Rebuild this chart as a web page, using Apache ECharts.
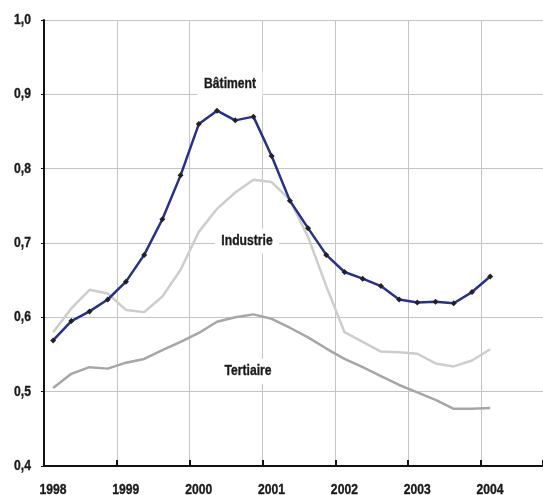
<!DOCTYPE html>
<html>
<head>
<meta charset="utf-8">
<script src="https://cdn.jsdelivr.net/npm/echarts@6/dist/echarts.min.js"></script>
<style>
html,body{margin:0;padding:0;background:#fff;}
#chart{width:543px;height:495px;}
</style>
</head>
<body>
<div id="chart"></div>
<script>
// Quarterly observations (mid-quarter positions), 1998Q1 .. 2004Q1
const periods = [];
for (let y = 1998; y <= 2004; y++) {
  for (let q = 0; q < 4; q++) {
    if (y === 2004 && q > 0) break;
    periods.push(y + 0.125 + q * 0.25);
  }
}
const batiment = [0.569,0.595,0.608,0.624,0.648,0.684,0.732,0.791,0.860,0.878,0.865,0.870,0.817,0.757,0.720,0.684,0.661,0.652,0.642,0.624,0.620,0.621,0.619,0.634,0.655];
const industrie = [0.580,0.612,0.637,0.632,0.610,0.607,0.628,0.664,0.715,0.746,0.768,0.785,0.782,0.758,0.708,0.642,0.580,0.567,0.554,0.553,0.551,0.538,0.534,0.542,0.557];
const tertiaire = [0.505,0.524,0.533,0.531,0.539,0.544,0.556,0.567,0.579,0.594,0.600,0.604,0.598,0.586,0.573,0.558,0.544,0.533,0.521,0.509,0.499,0.489,0.477,0.477,0.478];
const seriesNames = ['Bâtiment','Industrie','Tertiaire'];
const labelPos = [[2000.554,0.914],[2000.787,0.7026],[2000.80,0.5276]];
const yearTicks = [1998,1999,2000,2001,2002,2003,2004];
const yTicks = [0.4,0.5,0.6,0.7,0.8,0.9,1.0];

const FONT = '"Liberation Sans",Arial,sans-serif';
const NARROW = 0.81;
function pairs(vals){ return vals.map((v,i)=>[periods[i], v]); }

const chart = echarts.init(document.getElementById('chart'), null, {renderer:'canvas'});
chart.setOption({
  animation:false,
  backgroundColor:'#fff',
  grid:{left:44, top:20, right:0, bottom:29, containLabel:false},
  xAxis:{
    type:'value', min:1998, max:2004.85, interval:1,
    axisLine:{show:true, onZero:false, lineStyle:{color:'#111', width:2}},
    axisTick:{show:true, inside:true, length:6, lineStyle:{color:'#111', width:2}},
    splitLine:{show:true, lineStyle:{color:'#c4c4c4', width:1}},
    axisLabel:{show:false}
  },
  yAxis:{
    type:'value', min:0.4, max:1.0, interval:0.1,
    axisLine:{show:true, lineStyle:{color:'#111', width:2}},
    axisTick:{show:true, length:3, lineStyle:{color:'#111', width:1}},
    splitLine:{show:true, lineStyle:{color:'#c4c4c4', width:1}},
    axisLabel:{show:false}
  },
  series:[
    {name:seriesNames[2], type:'line', data:pairs(tertiaire), showSymbol:false, symbol:'none',
      lineStyle:{color:'#a6a6a6', width:2.5}, z:2},
    {name:seriesNames[1], type:'line', data:pairs(industrie), showSymbol:false, symbol:'none',
      lineStyle:{color:'#cdcdcd', width:2.5}, z:3},
    {name:seriesNames[0], type:'line', data:pairs(batiment), symbol:'diamond', symbolSize:6,
      itemStyle:{color:'#222'}, lineStyle:{color:'#27308f', width:2.5}, z:4}
  ]
});

// Condensed bold labels (Arial Narrow look), positioned through the axes' scales
const toPx = p => chart.convertToPixel({gridIndex:0}, p);
const txt = {fontFamily:FONT, fontWeight:'bold', fontSize:15, fill:'#1a1a1a', stroke:'#1a1a1a', lineWidth:0.35};
const g = [];
yTicks.forEach(v => {
  const p = toPx([1998, v]);
  g.push({type:'text', x:p[0]-13, y:p[1], scaleX:NARROW, z:100, silent:true,
    style:Object.assign({text:v.toFixed(1).replace('.', ','), align:'right', verticalAlign:'middle'}, txt)});
});
yearTicks.forEach(v => {
  const p = toPx([v, 0.4]);
  g.push({type:'text', x:p[0]+9, y:p[1]+23.5, scaleX:NARROW, z:100, silent:true,
    style:Object.assign({text:String(v), align:'center', verticalAlign:'middle'}, txt)});
});
seriesNames.forEach((name, i) => {
  const p = toPx(labelPos[i]);
  g.push({type:'text', x:p[0], y:p[1], scaleX:NARROW, z:100, silent:true,
    style:Object.assign({text:name, align:'center', verticalAlign:'middle',
      backgroundColor:'#fff', padding:[4,8,6,8]}, txt)});
});
chart.setOption({graphic:g});
</script>
</body>
</html>
